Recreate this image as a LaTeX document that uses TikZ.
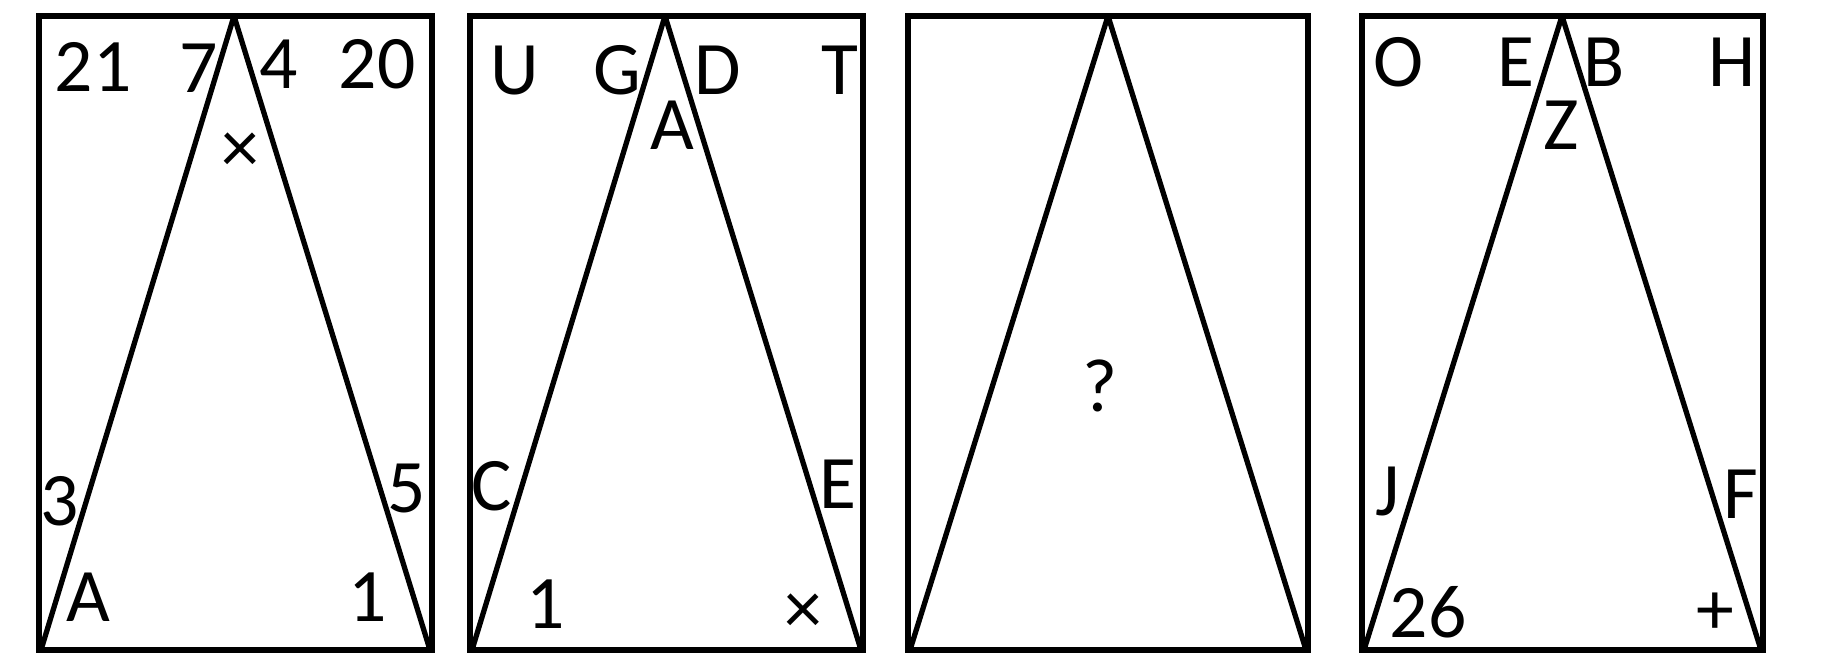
\documentclass[tikz,border=0pt]{standalone}
\usepackage{fontspec}
\setmainfont{Carlito}
\tikzset{
  frame/.style={line width=1.7pt},
  side/.style={line width=1.5pt, line join=round},
  lbl/.style={anchor=base, inner sep=0pt, font=\fontsize{21.5}{25}\selectfont},
  symb/.style={anchor=center, inner sep=0pt, font=\fontsize{21.5}{25}\selectfont},
}

\begin{document}
\begin{tikzpicture}[x=0.01cm, y=-0.01cm]
\useasboundingbox (0,0) rectangle (1836,661);

% panel 1
\draw[frame] (39,16) rectangle (432,650);
\coordinate (a1) at (234,16); \coordinate (l1) at (41,650); \coordinate (r1) at (430,650);
\draw[side] (l1) -- (a1) -- (r1);
		\node (n21)[lbl] at (93,92) {21} ;
\node (n7)[lbl] at (199,93) {7} ;
\node (n4)[lbl] at (279,89) {4} ;
\node (n20)[lbl] at (377,89) {20} ;
\node (x1)[symb] at (240,153) {×} ;
\node (n3)[lbl] at (60,526) {3} ;
\node (n5)[lbl] at (407,513) {5} ;
\node (nA1)[lbl] at (88,622) {A} ;
\node (n1)[lbl] at (368,621) {1} ;

% panel 2
\draw[frame] (470,16) rectangle (863,650);
\coordinate (a2) at (665,16); \coordinate (l2) at (472,650); \coordinate (r2) at (861,650);
\draw[side] (l2) -- (a2) -- (r2);
\node (nU)[lbl] at (515,95) {U} ;
\node (nG)[lbl] at (617,95) {G} ;
\node (nD)[lbl] at (718,95) {D} ;
\node (nT)[lbl] at (840,95) {T} ;
\node (nA2)[lbl] at (672,150) {A} ;
\node (nC)[lbl] at (492,511) {C} ;
\node (nE2)[lbl] at (838,509) {E} ;
\node (n12)[lbl] at (546,629) {1} ;
\node (x2)[symb] at (803,614) {×} ;

% panel 3
\draw[frame] (908,16) rectangle (1308,650);
\coordinate (a3) at (1108,16); \coordinate (l3) at (910,650); \coordinate (r3) at (1306,650);
\draw[side] (l3) -- (a3) -- (r3);
\node (nq)[lbl] at (1100,412) {?} ;

% panel 4
\draw[frame] (1362,16) rectangle (1763,650);
\coordinate (a4) at (1562,16); \coordinate (l4) at (1364,650); \coordinate (r4) at (1761,650);
\draw[side] (l4) -- (a4) -- (r4);
\node (nO)[lbl] at (1399,87) {O} ;
\node (nE4)[lbl] at (1516,87) {E} ;
\node (nB)[lbl] at (1604,87) {B} ;
\node (nH)[lbl] at (1732,87) {H} ;
\node (nZ)[lbl] at (1561,150) {Z} ;
\node (nJ)[lbl] at (1388,515) {J} ;
\node (nF)[lbl] at (1741,519) {F} ;
\node (n26)[lbl] at (1428,637) {26} ;
\node (plus)[symb] at (1715,614) {+} ;
\end{tikzpicture}
\end{document}
